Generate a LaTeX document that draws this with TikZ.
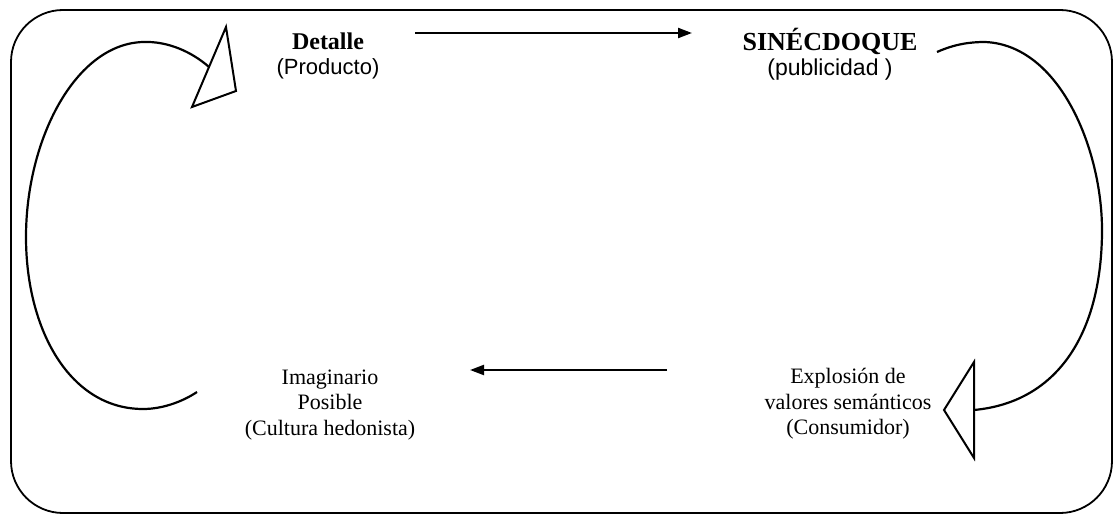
\documentclass[tikz,border=0pt]{standalone}
\usepackage{fontspec}
\setmainfont{Liberation Serif}
\newfontfamily\labelsans{Liberation Sans}
\usetikzlibrary{arrows.meta}

\begin{document}
\begin{tikzpicture}[x=1pt,y=-1pt,
  frame/.style={line width=1.8pt, rounded corners=52pt},
  loopline/.style={line width=2.2pt},
  openhead/.style={line width=2pt, line join=miter, fill=white},
  flow/.style={line width=2.2pt, -{Triangle[length=14pt,width=10pt]}},
  lbl/.style={align=center, inner sep=0pt, font=\fontsize{22}{25.5}\selectfont}]
\useasboundingbox (0,0) rectangle (1114,516);

% outer frame
\draw[frame] (11,10) rectangle (1112,513);

% the four stages of the cycle
\node[lbl] (detalle) at (328,56) {{\fontsize{24}{26}\selectfont\bfseries Detalle}\\{\labelsans (Producto)}};
\node[lbl] (sinec) at (830,54) {{\fontsize{26}{26}\selectfont\bfseries SINÉCDOQUE}\\{\fontsize{23}{26}\selectfont\labelsans (publicidad )}};
\node[lbl] (explo) at (848,404) {Explosión de\\valores semánticos\\(Consumidor)};
\node[lbl] (imag) at (330,405) {Imaginario\\Posible\\(Cultura hedonista)};

% straight arrows
\coordinate (topA) at (415,33);
\coordinate (topB) at (692,33);
\coordinate (botA) at (667,370);
\coordinate (botB) at (470,370);
\draw[flow] (topA) -- (topB);
\draw[flow] (botA) -- (botB);

% right loop with its open head
\coordinate (rStart) at (937,52);
\coordinate (rEnd) at (974,410);
\draw[loopline] (rStart) .. controls (955,44) and (970,42) .. (985,42)
  .. controls (1060,45) and (1102,150) .. (1102,230)
  .. controls (1102,330) and (1060,402) .. (rEnd);
\draw[openhead] (974,362) -- (944,410) -- (974,458) -- cycle;

% left loop with its open head
\coordinate (lStart) at (197,392);
\coordinate (lEnd) at (209,67);
\draw[loopline] (lStart) .. controls (185,400) and (165,409) .. (143,409)
  .. controls (70,409) and (26,330) .. (26,237)
  .. controls (26,140) and (75,44) .. (143,42)
  .. controls (168,41) and (192,52) .. (lEnd);
\draw[openhead] (226,27) -- (236,91) -- (192,107) -- cycle;
\end{tikzpicture}
\end{document}
